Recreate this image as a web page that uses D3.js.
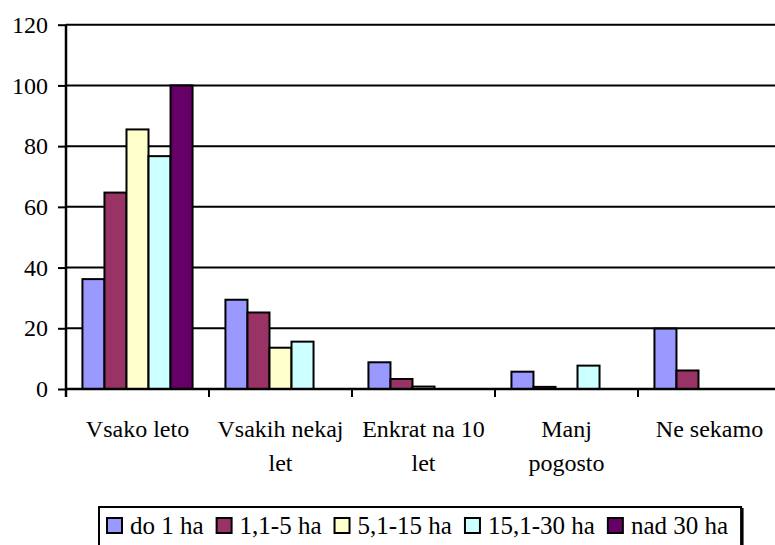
<!DOCTYPE html>
<html>
<head>
<meta charset="utf-8">
<script src="https://d3js.org/d3.v7.min.js"></script>
<style>
  body { margin: 0; background: #fff; }
  svg text { font-family: "Liberation Serif", "Times New Roman", serif; fill: #000; }
</style>
</head>
<body>
<svg id="chart" width="775" height="545"></svg>
<script>
// categories (line breaks as in the picture)
var categories = ["Vsako leto", "Vsakih nekaj let", "Enkrat na 10 let", "Manj pogosto", "Ne sekamo"];
var categoryLines = [["Vsako leto"], ["Vsakih nekaj", "let"], ["Enkrat na 10", "let"], ["Manj", "pogosto"], ["Ne sekamo"]];
var seriesNames = ["do 1 ha", "1,1-5 ha", "5,1-15 ha", "15,1-30 ha", "nad 30 ha"];
var seriesColors = ["#9999FF", "#993366", "#FFFFCC", "#CCFFFF", "#660066"];
// values per series, one per category
var do1 = [36.2, 29.4, 8.8, 5.7, 19.9];
var s1to5 = [64.7, 25.2, 3.3, 0.7, 6.1];
var s5to15 = [85.5, 13.6, 0.8, 0, 0];
var s15to30 = [76.7, 15.6, 0, 7.7, 0];
var nad30 = [100, 0, 0, 0, 0];
var yTicks = [0, 20, 40, 60, 80, 100, 120];

(function(){
  var series = [do1, s1to5, s5to15, s15to30, nad30];
  var svg = d3.select("#chart");
  var pLeft = 66, pRight = 781, pTop = 24.7, pBottom = 389;
  var fontFamily = "'Liberation Serif', serif";
  var fontSize = "24px";

  var x0 = d3.scaleBand().domain(categories).range([pLeft, pRight])
    .paddingInner(0.23).paddingOuter(0.115);
  var x1 = d3.scaleBand().domain(seriesNames).range([0, x0.bandwidth()]);
  var y = d3.scaleLinear().domain([0, 120]).range([pBottom, pTop]);

  // gridlines
  svg.append("g").selectAll("line").data(yTicks.slice(1)).enter().append("line")
    .attr("x1", pLeft).attr("x2", pRight)
    .attr("y1", function(d){ return y(d); })
    .attr("y2", function(d){ return y(d); })
    .style("stroke", "#000").style("stroke-width", 2);

  // bars
  var groups = svg.append("g").selectAll("g").data(categories).enter().append("g")
    .attr("transform", function(d){ return "translate(" + x0(d) + ",0)"; });

  groups.selectAll("rect")
    .data(function(c, ci){
      return series.map(function(s, si){ return {name: seriesNames[si], value: s[ci], color: seriesColors[si]}; })
        .filter(function(d){ return d.value > 0; });
    })
    .enter().append("rect")
    .attr("x", function(d){ return x1(d.name); })
    .attr("y", function(d){ return y(d.value); })
    .attr("width", x1.bandwidth())
    .attr("height", function(d){ return pBottom - y(d.value); })
    .style("fill", function(d){ return d.color; })
    .style("stroke", "#000").style("stroke-width", 2);

  // y axis
  var yAxis = d3.axisLeft(y).tickValues(yTicks).tickSize(8).tickPadding(10).tickFormat(d3.format("d"));
  var ya = svg.append("g").attr("transform", "translate(" + pLeft + ",0)").call(yAxis);
  ya.attr("font-family", fontFamily).attr("font-size", fontSize);
  ya.select(".domain").remove();
  ya.selectAll(".tick line").style("stroke", "#000").style("stroke-width", 2);
  ya.selectAll(".tick text").style("font-family", fontFamily).style("font-size", fontSize);
  svg.append("line").attr("x1", pLeft).attr("x2", pLeft).attr("y1", pTop).attr("y2", pBottom + 8)
    .style("stroke", "#000").style("stroke-width", 2.5);

  // x axis
  svg.append("line").attr("x1", pLeft).attr("x2", pRight).attr("y1", pBottom).attr("y2", pBottom)
    .style("stroke", "#000").style("stroke-width", 2.5);
  var bounds = categories.map(function(c){ return x0(c) - x0.step() * 0.115; });
  svg.append("g").selectAll("line").data(bounds).enter().append("line")
    .attr("x1", function(d){ return d; }).attr("x2", function(d){ return d; })
    .attr("y1", pBottom).attr("y2", pBottom + 8)
    .style("stroke", "#000").style("stroke-width", 2);

  // category labels
  var labels = svg.append("g").selectAll("text").data(categories).enter().append("text")
    .attr("x", function(d){ return x0(d) + x0.bandwidth() / 2; })
    .attr("y", 437)
    .attr("text-anchor", "middle")
    .style("font-family", fontFamily)
    .style("font-size", fontSize);
  labels.each(function(d, i){
    var t = d3.select(this);
    categoryLines[i].forEach(function(line, li){
      t.append("tspan").attr("x", x0(d) + x0.bandwidth() / 2).attr("dy", li === 0 ? 0 : 34).text(line);
    });
  });

  // legend
  var legend = svg.append("g");
  var lx = 107, ly = 518;
  legend.selectAll("g").data(seriesNames).enter().append("g").each(function(d, i){
    var g = d3.select(this);
    g.append("rect").attr("x", lx).attr("y", ly).attr("width", 15).attr("height", 15)
      .style("fill", seriesColors[i]).style("stroke", "#000").style("stroke-width", 2);
    var t = g.append("text").attr("x", lx + 23).attr("y", ly + 16)
      .style("font-family", fontFamily).style("font-size", "25px").text(d);
    lx = lx + 23 + t.node().getComputedTextLength() + 13;
  });
  legend.insert("rect", ":first-child")
    .attr("x", 99).attr("y", 507).attr("width", lx - 99).attr("height", 60)
    .style("fill", "#fff").style("stroke", "#000").style("stroke-width", 2);
  legend.append("line").attr("x1", lx + 1.5).attr("x2", lx + 1.5).attr("y1", 508).attr("y2", 545)
    .style("stroke", "#000").style("stroke-width", 2);
})();
</script>
</body>
</html>
